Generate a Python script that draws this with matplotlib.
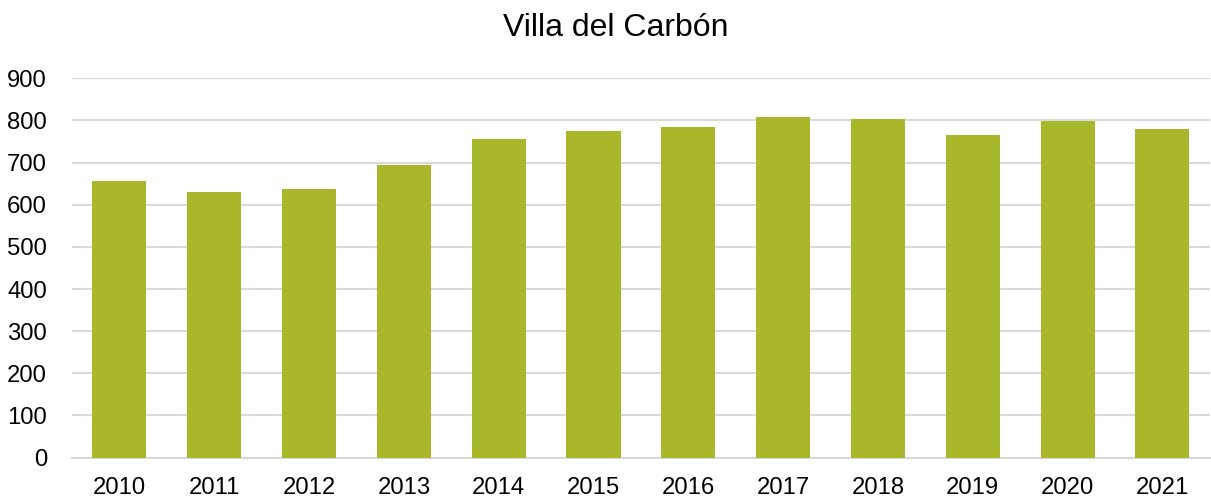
import matplotlib.pyplot as plt

years = ['2010', '2011', '2012', '2013', '2014', '2015',
         '2016', '2017', '2018', '2019', '2020', '2021']
values = [656, 629, 638, 694, 755, 774, 784, 807, 803, 765, 798, 779]

plt.rcParams['font.family'] = ['Liberation Sans', 'DejaVu Sans']

fig = plt.figure(figsize=(12.11, 4.98), dpi=100)
ax = fig.add_axes([0.0595, 0.081, 0.9395, 0.762])

x = range(len(years))
ax.bar(x, values, width=0.57, color='#A8B82A', zorder=3)

ax.set_xlim(-0.5, len(years) - 0.5)
ax.set_ylim(0, 900)
ax.set_yticks(range(0, 901, 100))
ax.set_xticks(list(x))
ax.set_xticklabels(years)
ax.yaxis.grid(True, color='#D9D9D9', linewidth=1.5, zorder=0)
ax.set_axisbelow(True)

for s in ['top', 'right', 'left']:
    ax.spines[s].set_visible(False)
ax.spines['bottom'].set_color('#D9D9D9')
ax.spines['bottom'].set_linewidth(1.5)
ax.tick_params(axis='both', length=0, labelsize=17.2, colors='black')
ax.tick_params(axis='x', pad=14)
ax.tick_params(axis='y', pad=18)

fig.text(0.5087, 0.928, 'Villa del Carbón', ha='center', va='baseline', fontsize=23)

fig.savefig('out.png', dpi=100)
